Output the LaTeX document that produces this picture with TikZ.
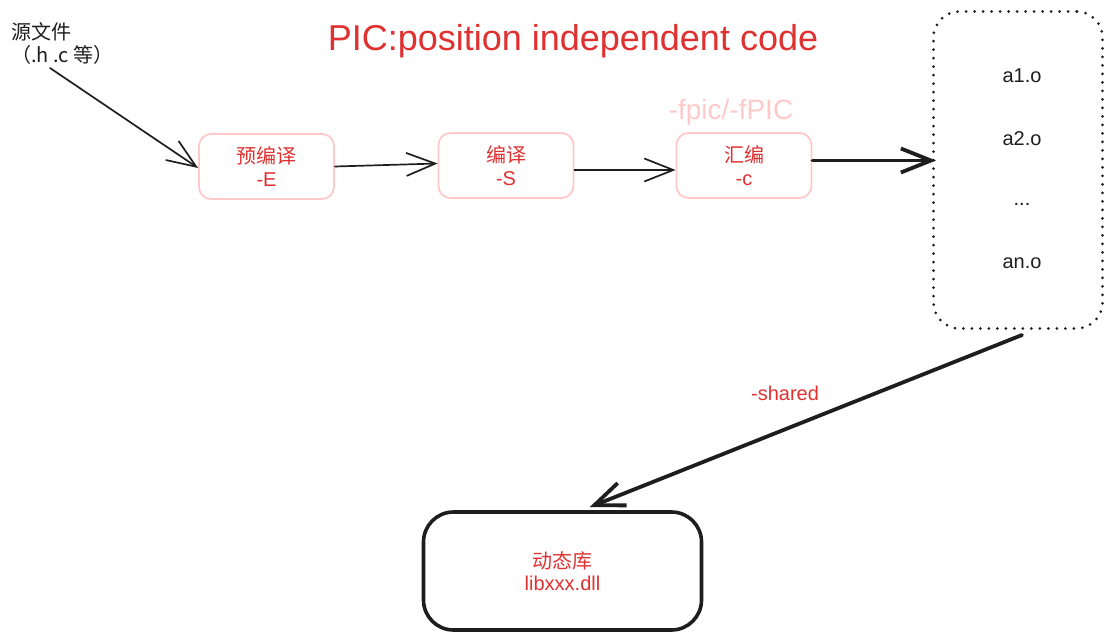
\documentclass[tikz,border=0pt]{standalone}
\usepackage{fontspec}
\setmainfont{Liberation Sans}
\newfontfamily\cjk{Noto Sans CJK SC}
\usetikzlibrary{arrows.meta}
\definecolor{exred}{HTML}{E03131}
\definecolor{expink}{HTML}{FFC9C9}
\definecolor{exink}{HTML}{1E1E1E}
\begin{document}
\begin{tikzpicture}[x=1pt,y=-1pt,
  txt/.style={inner sep=0pt, font=\fontsize{20}{23}\selectfont},
  stagebox/.style={draw=expink, line width=1.8pt, rounded corners=12pt, minimum width=135pt,
    minimum height=65pt, text=exred, align=center, inner sep=0pt, font=\fontsize{20}{23}\selectfont},
  thinarrow/.style={draw=exink, line width=1.7pt, line cap=round, line join=round,
    -{Straight Barb[length=29pt,width=23pt]}},
  thickarrow/.style={draw=exink, line width=3.8pt, line cap=round, line join=round,
    -{Straight Barb[length=30pt,width=24pt]}}]
\useasboundingbox (0,0) rectangle (1114,642);
% title
\node[txt, text=exred, font=\fontsize{36}{40}\selectfont, anchor=base] (title) at (573,51) {PIC:position independent code};
% source
\node[txt, text=exink, align=left, anchor=north west] (src) at (11,22) {\cjk 源文件\\\cjk （.h .c 等）};
\coordinate (srcend) at (50,68);
% stages
\node[stagebox] (pre) at (266.5,166.5) {{\cjk 预编译}\\-E};
\node[stagebox] (comp) at (506,165.5) {{\cjk 编译}\\-S};
\node[stagebox] (asm) at (744,165.5) {{\cjk 汇编}\\-c};
\node[txt, text=expink, font=\fontsize{28}{32}\selectfont, anchor=base] (fpic) at (731,119) {-fpic/-fPIC};
% object files
\node[draw=exink, line width=3pt, dash pattern=on 0pt off 8.5pt, line cap=round,
  rounded corners=26pt, minimum width=169pt, minimum height=317pt] (objs) at (1018,170) {};
\node[txt, text=exink, anchor=base] (o1) at (1022,82) {a1.o};
\node[txt, text=exink, anchor=base] (o2) at (1022,145) {a2.o};
\node[txt, text=exink, anchor=base] (odots) at (1022,205) {...};
\node[txt, text=exink, anchor=base] (on) at (1022,268) {an.o};
% library
\node[draw=exink, line width=3.6pt, rounded corners=30pt, minimum width=278pt, minimum height=118pt,
  text=exred, align=center, inner sep=0pt, font=\fontsize{20}{22}\selectfont] (lib) at (562.5,571)
  {{\cjk 动态库}\\libxxx.dll};
\node[txt, text=exred, anchor=base] (shared) at (785,400) {-shared};
% connectors
\draw[thinarrow] (srcend) -- ([yshift=-1.5pt]pre.west);
\draw[thinarrow] (pre.east) -- ([yshift=2pt]comp.west);
\draw[thinarrow] ([yshift=-4.5pt]comp.east) -- ([yshift=-4.5pt]comp.east -| asm.west);
\draw[thickarrow] ([yshift=5pt]asm.east) -- ([yshift=5pt,xshift=4pt]asm.east -| objs.west);
\draw[thickarrow] ([xshift=4pt,yshift=-5pt]objs.south) -- ([xshift=27pt,yshift=3pt]lib.north);
\end{tikzpicture}
\end{document}
